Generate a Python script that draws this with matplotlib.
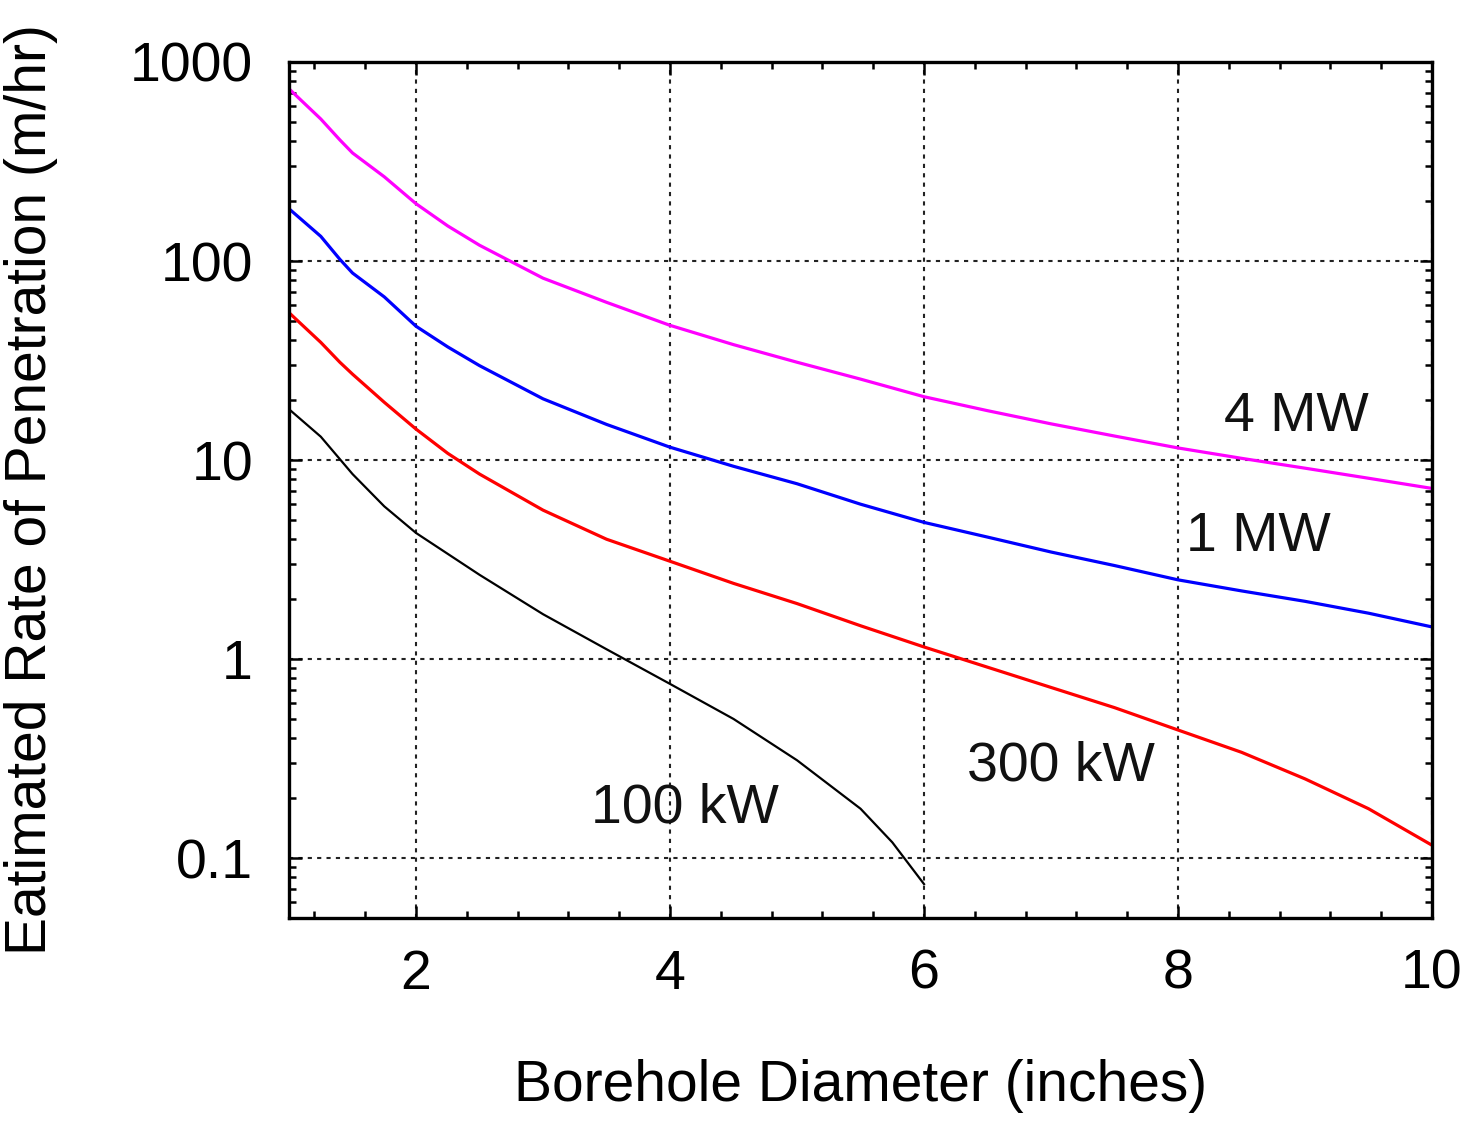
import numpy as np
import matplotlib.pyplot as plt
from matplotlib.ticker import LogLocator, MultipleLocator, FixedLocator, NullFormatter

plt.rcParams['font.family'] = ['Liberation Sans', 'DejaVu Sans']

# values
diam = [1, 1.25, 1.4, 1.5, 1.75, 2, 2.25, 2.5, 3, 3.5, 4, 4.5, 5, 5.5, 6, 6.5, 7, 7.5, 8, 8.5, 9, 9.5, 10]
rop_4mw = [733, 517, 406, 349, 265, 194, 150, 120, 82, 62, 47.5, 38, 31, 25.5, 20.8, 17.7, 15.2, 13.2, 11.5, 10.2, 9.1, 8.1, 7.2]
rop_1mw = [183, 133, 102, 87, 66, 47, 37, 29.8, 20.3, 15.1, 11.6, 9.3, 7.6, 6.0, 4.86, 4.1, 3.45, 2.95, 2.5, 2.2, 1.95, 1.7, 1.45]
rop_300kw = [55, 39, 31, 27, 19.5, 14.3, 10.8, 8.5, 5.6, 4.0, 3.1, 2.4, 1.9, 1.47, 1.15, 0.91, 0.72, 0.57, 0.44, 0.34, 0.25, 0.177, 0.116]

diam_100 = [1, 1.25, 1.5, 1.75, 2, 2.5, 3, 3.5, 4, 4.5, 5, 5.5, 5.75, 6]
rop_100kw = [18, 13.1, 8.5, 5.85, 4.3, 2.65, 1.68, 1.12, 0.75, 0.5, 0.31, 0.177, 0.12, 0.074]

labels = ["4 MW", "1 MW", "300 kW", "100 kW"]
label_x = [8.93, 8.63, 7.08, 4.12]
label_y = [16.4, 4.09, 0.287, 0.177]

fig = plt.figure(figsize=(14.68, 11.21), dpi=100)
ax = fig.add_axes([0.1969, 0.1811, 0.9755 - 0.1969, 0.9447 - 0.1811])

ax.plot(diam, rop_4mw, color="#ff00ff", lw=2.3)
ax.plot(diam, rop_1mw, color="#0000ff", lw=2.3)
ax.plot(diam, rop_300kw, color="#ff0000", lw=2.3)
ax.plot(diam_100, rop_100kw, color="black", lw=1.6)

for t, x, y in zip(labels, label_x, label_y):
    ax.text(x, y, t, fontsize=40, ha="center", va="center", color="#111111")

ax.set_yscale("log")
ax.set_xlim(1, 10)
ax.set_ylim(0.05, 1000)

ax.xaxis.set_major_locator(FixedLocator([2, 4, 6, 8, 10]))
ax.xaxis.set_minor_locator(MultipleLocator(0.4))
ax.yaxis.set_major_locator(FixedLocator([0.1, 1, 10, 100, 1000]))
ax.yaxis.set_minor_locator(LogLocator(base=10, subs=np.arange(2, 10)))
ax.yaxis.set_minor_formatter(NullFormatter())
ax.set_yticklabels(["0.1", "1", "10", "100", "1000"])

ax.tick_params(which="both", direction="in", top=True, right=True, width=1.8)
ax.tick_params(which="major", length=9, labelsize=40, pad=26)
ax.tick_params(which="minor", length=5)
ax.tick_params(axis="x", pad=22)

ax.grid(True, which="major", color="#222222", linestyle=(0, (2, 2.5)), lw=1.5)
for s in ax.spines.values():
    s.set_linewidth(2.4)

ax.set_xlabel("Borehole Diameter (inches)", fontsize=41, labelpad=42)
ax.set_ylabel("Eatimated Rate of Penetration (m/hr)", fontsize=41, labelpad=52)

fig.savefig("out.png", dpi=100)
